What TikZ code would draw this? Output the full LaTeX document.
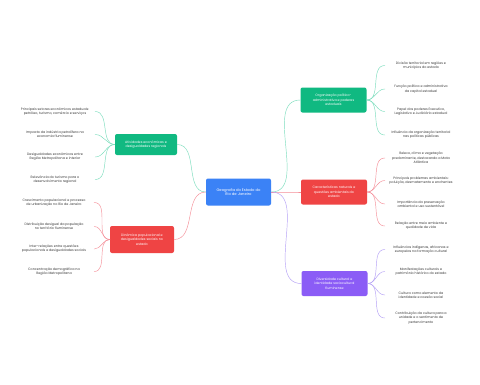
\documentclass[tikz,border=0pt]{standalone}
\usepackage{fontspec}
\setmainfont{Poppins}
\usepackage{xcolor}
\usepackage{tikz}
\usetikzlibrary{positioning}

\definecolor{hubblue}{HTML}{3B82F6}
\definecolor{topicgreen}{HTML}{10B981}
\definecolor{topicred}{HTML}{EF4444}
\definecolor{topicpurple}{HTML}{8B5CF6}
\definecolor{linegreen}{HTML}{7BDDBD}
\definecolor{linered}{HTML}{F58E98}
\definecolor{linepurple}{HTML}{B5A0F6}
\definecolor{leaftext}{HTML}{3A3A3A}

\begin{document}
\begin{tikzpicture}[
    x=1pt, y=-1pt,
    hub/.style={rectangle, fill=hubblue, text=white, rounded corners=2pt, minimum width=65pt, minimum height=27pt, inner sep=1pt, align=center, font=\fontsize{3.7}{4.8}\selectfont},
    topic/.style={rectangle, text=white, rounded corners=2pt, minimum width=66pt, minimum height=25pt, inner sep=1pt, align=center, font=\fontsize{3.3}{4.4}\selectfont},
    leaf/.style={rectangle, text=leaftext, minimum width=72pt, inner sep=1pt, align=center, font=\fontsize{3.3}{4.3}\selectfont},
    wideleaf/.style={leaf, minimum width=80pt},
    link/.style={line width=0.45pt, line cap=round}
]
\fill[white] (0,0) rectangle (480,384);
\useasboundingbox (0,0) rectangle (480,384);

% centre
\node (geo) [hub] at (238.5,192) {Geografia do Estado do\\Rio de Janeiro};

% right topics
\node (org) [topic, fill=topicgreen] at (333.5,100) {Organização político-\\administrativa e poderes\\estaduais};
\node (nat) [topic, fill=topicred] at (334,192) {Características naturais e\\questões ambientais do\\estado};
\node (cult) [topic, fill=topicpurple] at (334.5,283.5) {Diversidade cultural e\\identidade sociocultural\\fluminense};

% left topics
\node (eco) [topic, fill=topicgreen, minimum width=62pt, minimum height=21pt] at (146,144.5) {Atividades econômicas e\\desigualdades regionais};
\node (pop) [topic, fill=topicred, minimum width=64pt, minimum height=27pt] at (142,239.5) {Dinâmica populacional e\\desigualdades sociais no\\estado};

% right leaves
\node (org1) [leaf] at (421,65.5) {Divisão territorial em regiões e\\municípios do estado};
\node (org2) [leaf] at (421,89) {Função política e administrativa\\da capital estadual};
\node (org3) [leaf] at (421,111.5) {Papel dos poderes Executivo,\\Legislativo e Judiciário estadual};
\node (org4) [leaf] at (421,135) {Influência da organização territorial\\nas políticas públicas};

\node (nat1) [leaf] at (421,158) {Relevo, clima e vegetação\\predominante, destacando a Mata\\Atlântica};
\node (nat2) [leaf] at (421,180.5) {Principais problemas ambientais:\\poluição, desmatamento e enchentes};
\node (nat3) [leaf] at (421,204) {Importância da preservação\\ambiental e uso sustentável};
\node (nat4) [leaf] at (421,226) {Relação entre meio ambiente e\\qualidade de vida};

\node (cult1) [leaf] at (421,249.5) {Influências indígenas, africanas e\\europeias na formação cultural};
\node (cult2) [leaf] at (421,271.5) {Manifestações culturais e\\patrimônio histórico do estado};
\node (cult3) [leaf] at (421,295) {Cultura como elemento da\\identidade e coesão social};
\node (cult4) [leaf] at (421,318) {Contribuição da cultura para a\\unidade e o sentimento de\\pertencimento};

% left leaves
\node (eco1) [wideleaf] at (55,111.5) {Principais setores econômicos estaduais:\\petróleo, turismo, comércio e serviços};
\node (eco2) [wideleaf] at (55,134.5) {Impacto da indústria petrolífera na\\economia fluminense};
\node (eco3) [wideleaf] at (55,157) {Desigualdades econômicas entre\\Região Metropolitana e interior};
\node (eco4) [wideleaf] at (55,179.5) {Relevância do turismo para o\\desenvolvimento regional};

\node (pop1) [wideleaf] at (54,202.5) {Crescimento populacional e processo\\de urbanização no Rio de Janeiro};
\node (pop2) [wideleaf] at (54,226.5) {Distribuição desigual da população\\no território fluminense};
\node (pop3) [wideleaf] at (54,249) {Inter-relações entre questões\\populacionais e desigualdades sociais};
\node (pop4) [wideleaf] at (54,271.5) {Concentração demográfica na\\Região Metropolitana};

% centre to topics
\draw [link, linegreen] (geo.east) to[out=0, in=180] (org.west);
\draw [link, linered] (geo.east) to[out=0, in=180] (nat.west);
\draw [link, linepurple] (geo.east) to[out=0, in=180] (cult.west);
\draw [link, linegreen] (geo.west) to[out=180, in=0] (eco.east);
\draw [link, linered] (geo.west) to[out=180, in=0] (pop.east);

% topics to leaves
\draw [link, linegreen] (org.east) to[out=0, in=180] (org1.west);
\draw [link, linegreen] (org.east) to[out=0, in=180] (org2.west);
\draw [link, linegreen] (org.east) to[out=0, in=180] (org3.west);
\draw [link, linegreen] (org.east) to[out=0, in=180] (org4.west);

\draw [link, linered] (nat.east) to[out=0, in=180] (nat1.west);
\draw [link, linered] (nat.east) to[out=0, in=180] (nat2.west);
\draw [link, linered] (nat.east) to[out=0, in=180] (nat3.west);
\draw [link, linered] (nat.east) to[out=0, in=180] (nat4.west);

\draw [link, linepurple] (cult.east) to[out=0, in=180] (cult1.west);
\draw [link, linepurple] (cult.east) to[out=0, in=180] (cult2.west);
\draw [link, linepurple] (cult.east) to[out=0, in=180] (cult3.west);
\draw [link, linepurple] (cult.east) to[out=0, in=180] (cult4.west);

\draw [link, linegreen] (eco.west) to[out=180, in=0] (eco1.east);
\draw [link, linegreen] (eco.west) to[out=180, in=0] (eco2.east);
\draw [link, linegreen] (eco.west) to[out=180, in=0] (eco3.east);
\draw [link, linegreen] (eco.west) to[out=180, in=0] (eco4.east);

\draw [link, linered] (pop.west) to[out=180, in=0] (pop1.east);
\draw [link, linered] (pop.west) to[out=180, in=0] (pop2.east);
\draw [link, linered] (pop.west) to[out=180, in=0] (pop3.east);
\draw [link, linered] (pop.west) to[out=180, in=0] (pop4.east);

\end{tikzpicture}
\end{document}
